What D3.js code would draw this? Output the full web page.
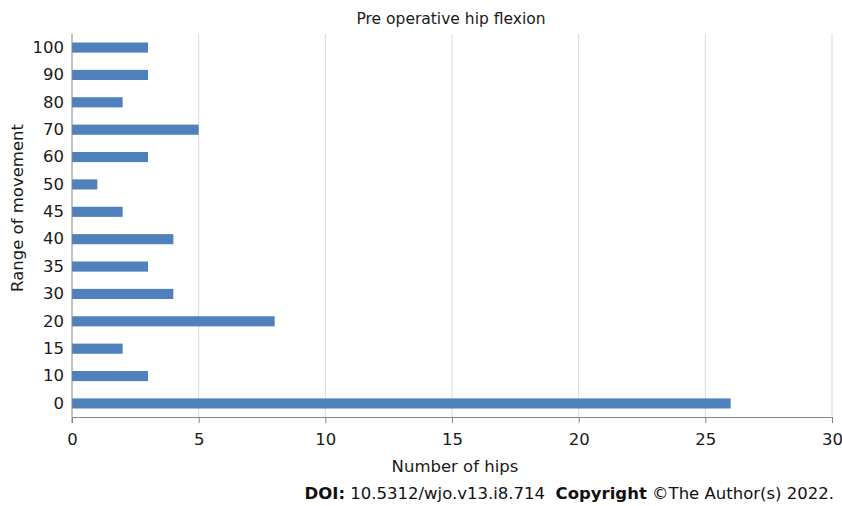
<!DOCTYPE html>
<meta charset="utf-8">
<head>
<script src="https://cdn.jsdelivr.net/npm/d3@7"></script>
<style>
  body { margin: 0; background: #fff; }
  svg { font-family: "DejaVu Sans", Verdana, sans-serif; }
</style>
</head>
<body>
<div id="chart"></div>
<script>
// data (bottom to top)
var categories = ["0", "10", "15", "20", "30", "35", "40", "45", "50", "60", "70", "80", "90", "100"];
var hips = [26, 3, 2, 8, 4, 3, 4, 2, 1, 3, 5, 2, 3, 3];
var xTicks = [0, 5, 10, 15, 20, 25, 30];

var W = 842, H = 506;
var margin = {top: 34, right: 10, bottom: 89, left: 72};

var svg = d3.select("#chart").append("svg")
    .attr("width", W)
    .attr("height", H);

var x = d3.scaleLinear().domain([0, 30]).range([margin.left, 832]);
var y = d3.scaleBand()
    .domain(categories.slice().reverse())
    .range([margin.top, H - margin.bottom])
    .paddingInner(0.63)
    .paddingOuter(0.31);

// gridlines
svg.append("g").selectAll("line")
  .data(xTicks.slice(1))
  .enter().append("line")
    .attr("x1", d => x(d)).attr("x2", d => x(d))
    .attr("y1", margin.top).attr("y2", H - margin.bottom)
    .attr("stroke", "#d9d9d9")
    .attr("stroke-width", 1);

// bars
svg.append("g").selectAll("rect")
  .data(categories)
  .enter().append("rect")
    .attr("x", x(0))
    .attr("y", d => y(d))
    .attr("width", (d, i) => x(hips[i]) - x(0))
    .attr("height", y.bandwidth())
    .attr("fill", "#4f81bd");

// x axis
var xAxis = svg.append("g")
    .attr("transform", "translate(0," + (H - margin.bottom) + ")")
    .call(d3.axisBottom(x).tickValues(xTicks).tickSize(6).tickSizeOuter(0).tickPadding(10));
xAxis.select(".domain").attr("stroke", "#868686");
xAxis.selectAll(".tick line").attr("stroke", "#868686");
xAxis.selectAll("text").attr("font-size", 16.5).attr("fill", "#1a1a1a")
    .attr("font-family", "DejaVu Sans");

// y axis
var yAxis = svg.append("g")
    .attr("transform", "translate(" + margin.left + ",0)")
    .call(d3.axisLeft(y).tickSize(0).tickPadding(8));
yAxis.select(".domain").attr("stroke", "#868686")
    .attr("d", "M0," + margin.top + "V" + (H - margin.bottom + 6));
yAxis.selectAll("text").attr("font-size", 16.5).attr("fill", "#1a1a1a")
    .attr("font-family", "DejaVu Sans");

// title
svg.append("text")
    .attr("x", 451).attr("y", 24)
    .attr("text-anchor", "middle")
    .attr("font-size", 15.5)
    .attr("fill", "#1a1a1a")
    .text("Pre operative hip flexion");

// axis titles
svg.append("text")
    .attr("x", 455).attr("y", 472)
    .attr("text-anchor", "middle")
    .attr("font-size", 16.5)
    .attr("fill", "#1a1a1a")
    .text("Number of hips");

svg.append("text")
    .attr("transform", "translate(23,208) rotate(-90)")
    .attr("text-anchor", "middle")
    .attr("font-size", 16.5)
    .attr("fill", "#1a1a1a")
    .text("Range of movement");

// source line
var src = svg.append("text")
    .attr("x", 834).attr("y", 499)
    .attr("text-anchor", "end")
    .attr("font-size", 16.5)
    .attr("fill", "#111");
src.append("tspan").attr("font-weight", "bold").text("DOI:");
src.append("tspan").text(" 10.5312/wjo.v13.i8.714\u00A0\u00A0");
src.append("tspan").attr("font-weight", "bold").text("Copyright");
src.append("tspan").text(" \u00A9The Author(s) 2022.");
</script>
</body>
</html>
